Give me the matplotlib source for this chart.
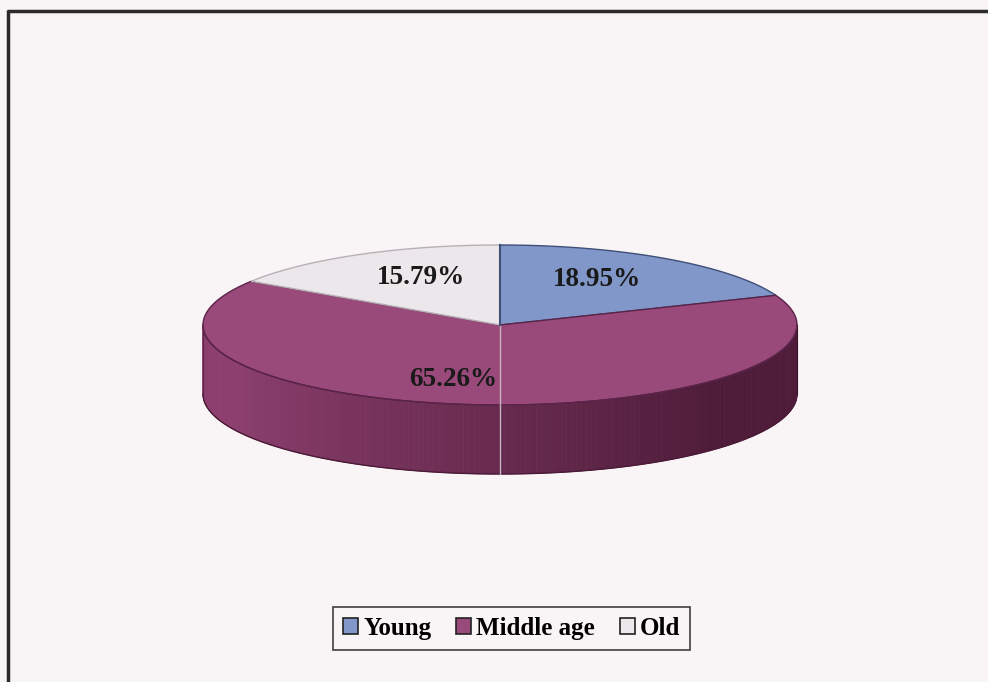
import numpy as np
import matplotlib.pyplot as plt
from matplotlib.patches import Polygon, Patch
from matplotlib.colors import to_rgb

labels = ['Young', 'Middle age', 'Old']
values = [18.95, 65.26, 15.79]
top_colors = ['#8197c9', '#9a4a7a', '#ebe7ea']
edge_colors = ['#3f4f78', '#5a2448', '#b8b0b6']

# pie geometry (pixels)
cx, cy = 500, 325
rx, ry = 297, 80
depth = 69

plt.rcParams['font.family'] = ['Liberation Serif', 'DejaVu Serif']
fig = plt.figure(figsize=(9.88, 6.82), dpi=100, facecolor='#f9f4f6')
ax = fig.add_axes([0, 0, 1, 1])
ax.set_xlim(0, 988)
ax.set_ylim(682, 0)
ax.axis('off')


def pt(phi, dy=0):
    # phi in degrees, clockwise from 12 o'clock
    r = np.radians(phi)
    return cx + rx * np.sin(r), cy - ry * np.cos(r) + dy


# side of the cylinder (front half, all middle age)
light = np.array(to_rgb('#8c3f6e'))
dark = np.array(to_rgb('#4e1c39'))
n = 180
angles = np.linspace(90, 270, n + 1)
for a1, a2 in zip(angles[:-1], angles[1:]):
    t = ((a1 + a2) / 2 - 90) / 180
    t = np.clip((t - 0.25) / 0.6, 0, 1)
    col = dark + (light - dark) * t
    x1, y1 = pt(a1)
    x2, y2 = pt(a2)
    ax.add_patch(Polygon([(x1, y1), (x2, y2), (x2, y2 + depth), (x1, y1 + depth)],
                         closed=True, facecolor=col, edgecolor=col, lw=0.6))
# bottom outline of side
bx, by = zip(*[pt(a, depth) for a in np.linspace(90, 270, 200)])
ax.plot(bx, by, color='#4a1a36', lw=1.0)
ax.plot([cx - rx, cx - rx], [cy, cy + depth], color='#5a2448', lw=0.8)
ax.plot([cx + rx, cx + rx], [cy, cy + depth], color='#3a1228', lw=0.8)

# top surface wedges
start = 0.0
total = sum(values)
for v, fc, ec in zip(values, top_colors, edge_colors):
    span = v / total * 360
    arc = [pt(a) for a in np.linspace(start, start + span, 200)]
    ax.add_patch(Polygon([(cx, cy)] + arc, closed=True, facecolor=fc,
                         edgecolor=ec, lw=1.0, zorder=3))
    start += span

# front rim line of the top ellipse
fx, fy = zip(*[pt(a) for a in np.linspace(90, 270, 200)])
ax.plot(fx, fy, color='#5a2448', lw=1.0, zorder=4)

# thin light line down the front
ax.plot([cx, cx], [cy, cy + ry + depth], color='#c4b4bf', lw=1.0, zorder=4)
ax.plot([cx, cx], [cy - ry, cy], color='#3f4f78', lw=1.5, zorder=4)

# percentage labels
label_pos = [(597, 280), (453, 380), (421, 278)]
for v, (x, y) in zip(values, label_pos):
    ax.text(x, y, f'{v:.2f}%', ha='center', va='center', fontsize=19.5,
            fontweight='bold', color='#1a1a1a', zorder=5)

# outer frame (top and left)
ax.plot([7, 988], [10.5, 10.5], color='#2a2a2a', lw=2.5, solid_capstyle='butt')
ax.plot([8, 8], [10, 682], color='#2a2a2a', lw=2.5, solid_capstyle='butt')

handles = [Patch(facecolor=c, edgecolor='#222222', lw=1.2) for c in top_colors]
leg = fig.legend(handles, labels, loc='center', bbox_to_anchor=(0.518, 0.079),
                 ncol=3, frameon=True, fancybox=False, edgecolor='#111111',
                 facecolor='#f9f4f6', handlelength=0.6, handleheight=0.6,
                 handletextpad=0.2, columnspacing=1.0, borderpad=0.4,
                 prop={'size': 18, 'weight': 'bold'})
leg.get_frame().set_linewidth(1.2)

fig.savefig('out.png', dpi=100, facecolor=fig.get_facecolor())
